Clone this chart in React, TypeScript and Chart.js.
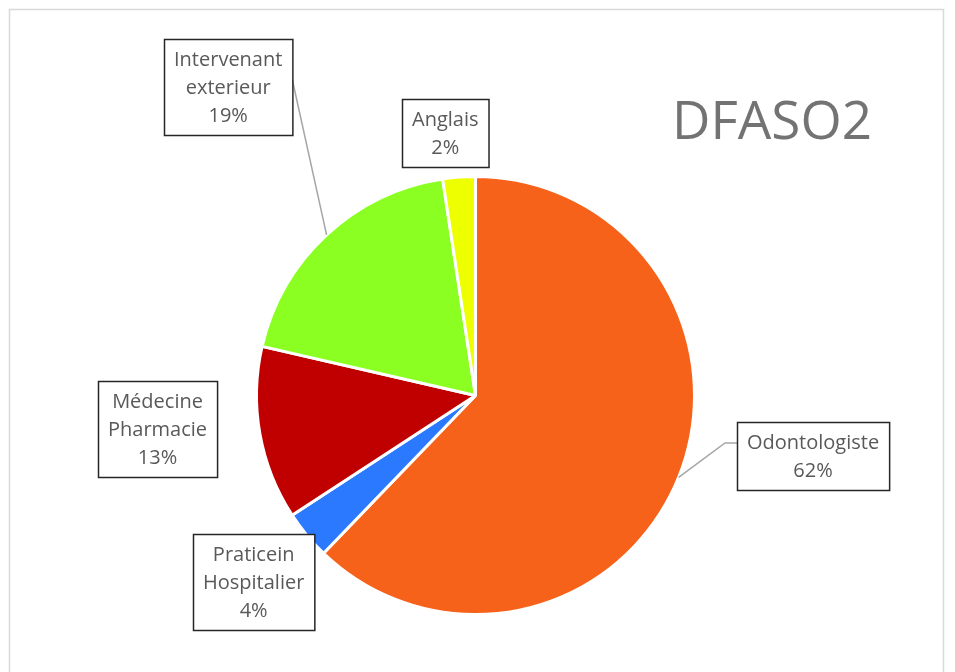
import React, { useEffect, useRef } from "react";
import { Chart, registerables } from "chart.js";

Chart.register(...registerables);

const categories: string[][] = [
  ["Odontologiste"],
  ["Praticein", "Hospitalier"],
  ["Médecine", "Pharmacie"],
  ["Intervenant", "exterieur"],
  ["Anglais"],
];
const values: number[] = [62.2, 3.6, 12.8, 19.0, 2.4];
const colors: string[] = ["#F66219", "#2B79FF", "#C00000", "#8CFF22", "#EEFF00"];
const titleText = "DFASO2";

// label box centres relative to the pie centre, in units of the radius (style only)
const labelStyle = [
  { dx: 1.543, dy: 0.277, leader: { side: "left", yOff: 21, stub: 12 } },
  { dx: -1.012, dy: 0.852, leader: null },
  { dx: -1.452, dy: 0.155, leader: null },
  { dx: -1.131, dy: -1.407, leader: { side: "right", yOff: 41, stub: 0 } },
  { dx: -0.137, dy: -1.2, leader: null },
];

const FONT = "'Open Sans', 'DejaVu Sans', sans-serif";

const overlayPlugin = {
  id: "overlay",
  beforeDraw(chart: any) {
    const ctx = chart.ctx;
    ctx.save();
    ctx.fillStyle = "#FFFFFF";
    ctx.fillRect(0, 0, chart.width, chart.height);
    ctx.strokeStyle = "#D9D9D9";
    ctx.lineWidth = 1.5;
    ctx.strokeRect(9.5, 9.5, chart.width - 21, chart.height + 40);
    ctx.restore();
  },
  afterDraw(chart: any) {
    const ctx = chart.ctx;
    const meta = chart.getDatasetMeta(0);
    const data = chart.data.datasets[0].data as number[];
    const total = data.reduce((a, b) => a + b, 0);
    ctx.save();
    // title
    ctx.font = `53px ${FONT}`;
    ctx.fillStyle = "#737373";
    ctx.textAlign = "center";
    ctx.textBaseline = "alphabetic";
    ctx.fillText(titleText, 772, 139);

    ctx.font = `20px ${FONT}`;
    const lineH = 28;
    meta.data.forEach((arc: any, i: number) => {
      const st = labelStyle[i];
      const cx = arc.x, cy = arc.y, R = arc.outerRadius;
      const lines = [...categories[i], Math.round((data[i] / total) * 100) + "%"];
      const w = Math.max(...lines.map((l) => ctx.measureText(l).width)) + 20;
      const h = lines.length * lineH + 12;
      const bx = Math.round(cx + st.dx * R - w / 2);
      const by = Math.round(cy + st.dy * R - h / 2);
      // leader line
      if (st.leader) {
        const mid = (arc.startAngle + arc.endAngle) / 2;
        const px = cx + Math.cos(mid) * R;
        const py = cy + Math.sin(mid) * R;
        const ax = st.leader.side === "left" ? bx : bx + w;
        const ay = by + st.leader.yOff;
        const sx = st.leader.side === "left" ? ax - st.leader.stub : ax + st.leader.stub;
        ctx.strokeStyle = "#A6A6A6";
        ctx.lineWidth = 1.5;
        ctx.beginPath();
        ctx.moveTo(ax, ay);
        ctx.lineTo(sx, ay);
        ctx.lineTo(px, py);
        ctx.stroke();
      }
      ctx.fillStyle = "#FFFFFF";
      ctx.fillRect(bx, by, w, h);
      ctx.strokeStyle = "#262626";
      ctx.lineWidth = 1.5;
      ctx.strokeRect(bx + 0.5, by + 0.5, w, h);
      ctx.fillStyle = "#595959";
      ctx.textAlign = "center";
      ctx.textBaseline = "middle";
      lines.forEach((l, k) => {
        ctx.fillText(l, bx + w / 2, by + 6 + lineH / 2 + k * lineH + 1);
      });
    });
    ctx.restore();
  },
};

export default function App() {
  const ref = useRef<HTMLCanvasElement | null>(null);
  useEffect(() => {
    if (!ref.current) return;
    const chart = new Chart(ref.current, {
      type: "pie",
      data: {
        labels: categories.map((c) => c.join(" ")),
        datasets: [
          {
            data: values,
            backgroundColor: colors,
            borderColor: "#FFFFFF",
            borderWidth: 3,
          },
        ],
      },
      options: {
        responsive: false,
        animation: false,
        events: [],
        layout: { padding: { left: 255, right: 259, top: 175, bottom: 56 } },
        plugins: {
          legend: { display: false },
          title: { display: false },
          tooltip: { enabled: false },
        },
      },
      plugins: [overlayPlugin],
    });
    return () => chart.destroy();
  }, []);
  return (
    <div style={{ position: "fixed", left: 0, top: 0, width: 955, height: 672, background: "#fff" }}>
      <canvas ref={ref} width={955} height={672} style={{ display: "block" }} />
    </div>
  );
}
